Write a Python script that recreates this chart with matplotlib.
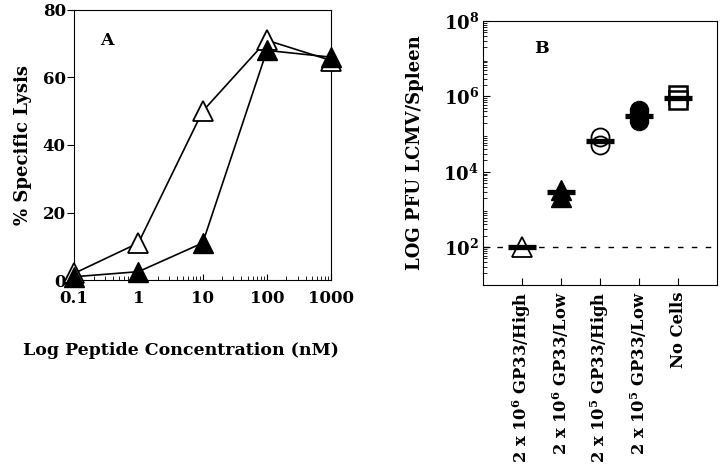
import matplotlib
matplotlib.use("Agg")
import matplotlib.pyplot as plt
import numpy as np

plt.rcParams['font.family'] = ['DejaVu Serif']
plt.rcParams['font.weight'] = 'bold'
plt.rcParams['axes.labelweight'] = 'bold'
plt.rcParams['mathtext.fontset'] = 'custom'
plt.rcParams['mathtext.rm'] = 'DejaVu Serif:bold'

# panel A: lysis vs peptide concentration
conc = [0.1, 1, 10, 100, 1000]
lysis_open = [2, 11, 50, 71, 65]
lysis_filled = [1, 2.5, 11, 68, 66]

# panel B: virus titres per group
groups = ["2 x 10$^6$ GP33/High", "2 x 10$^6$ GP33/Low", "2 x 10$^5$ GP33/High",
          "2 x 10$^5$ GP33/Low", "No Cells"]
group_means = [1e2, 3e3, 6.7e4, 3e5, 9e5]
pts_tri_open = [1e2]
pts_tri_filled = [3.3e3, 2.2e3]
pts_circ_open = [8.5e4, 5e4]
pts_circ_filled = [4.5e5, 3.5e5, 2.2e5]
pts_square = [1.1e6, 8e5]
detect_limit = 1e2

fig = plt.figure(figsize=(7.2, 4.7), dpi=100)

ax1 = fig.add_axes([0.103, 0.404, 0.357, 0.575])
ax1.plot(conc, lysis_open, color='black', lw=1.2, marker='^', ms=14,
         mfc='white', mec='black', mew=1.3, clip_on=False, zorder=3)
ax1.plot(conc, lysis_filled, color='black', lw=1.2, marker='^', ms=14,
         mfc='black', mec='black', clip_on=False, zorder=4)
ax1.set_xscale('log')
ax1.set_xlim(0.1, 1000)
ax1.set_ylim(0, 80)
ax1.set_yticks([0, 20, 40, 60, 80])
ax1.set_xticks(conc)
ax1.set_xticklabels(["0.1", "1", "10", "100", "1000"])
ax1.tick_params(axis='x', which='both', direction='in', labelsize=12, length=4, pad=7)
ax1.tick_params(axis='x', which='minor', length=3)
ax1.tick_params(axis='y', direction='out', labelsize=12, length=5, pad=1)
ax1.set_xlabel("Log Peptide Concentration (nM)", fontsize=12.5)
ax1.xaxis.set_label_coords(0.415, -0.23)
ax1.set_ylabel("% Specific Lysis", fontsize=13, labelpad=8)
ax1.text(0.1, 0.87, "A", transform=ax1.transAxes, fontsize=12.5)

ax2 = fig.add_axes([0.671, 0.394, 0.325, 0.561])
ax2.set_yscale('log')
ax2.set_xlim(-1, 5)
ax2.set_ylim(1e1, 1e8)
ax2.axhline(detect_limit, color='black', lw=1, ls=(0, (4, 6)), zorder=1)
ax2.plot([0] * len(pts_tri_open), pts_tri_open, ls='none', marker='^', ms=14,
         mfc='white', mec='black', mew=1.3, zorder=3)
ax2.plot([1] * len(pts_tri_filled), pts_tri_filled, ls='none', marker='^', ms=14,
         mfc='black', mec='black', zorder=3)
ax2.plot([2] * len(pts_circ_open), pts_circ_open, ls='none', marker='o', ms=13,
         mfc='none', mec='black', mew=1.3, zorder=3)
ax2.plot([3] * len(pts_circ_filled), pts_circ_filled, ls='none', marker='o', ms=13,
         mfc='black', mec='black', zorder=3)
ax2.plot([4] * len(pts_square), pts_square, ls='none', marker='s', ms=13,
         mfc='white', mec='black', mew=1.8, zorder=3)
ax2.plot(range(len(groups)), group_means, ls='none', marker='_', ms=20, mew=3.8,
         color='black', zorder=4)
ax2.set_yticks([1e2, 1e4, 1e6, 1e8])
ax2.set_yticklabels(["10$^2$", "10$^4$", "10$^6$", "10$^8$"])
ax2.yaxis.set_minor_locator(matplotlib.ticker.LogLocator(base=10, subs=np.arange(2, 10), numticks=20))
ax2.yaxis.set_minor_formatter(matplotlib.ticker.NullFormatter())
ax2.set_xticks(range(len(groups)))
ax2.set_xticklabels(groups, rotation=90)
ax2.tick_params(axis='y', which='both', direction='in', labelsize=13, length=5, pad=3)
ax2.tick_params(axis='y', which='minor', length=3)
ax2.tick_params(axis='x', direction='in', length=5, pad=5, labelsize=11.8)
ax2.set_ylabel("LOG PFU LCMV/Spleen", fontsize=13, labelpad=14)
ax2.text(0.22, 0.88, "B", transform=ax2.transAxes, fontsize=12.5)

fig.savefig("out.png", dpi=100)
